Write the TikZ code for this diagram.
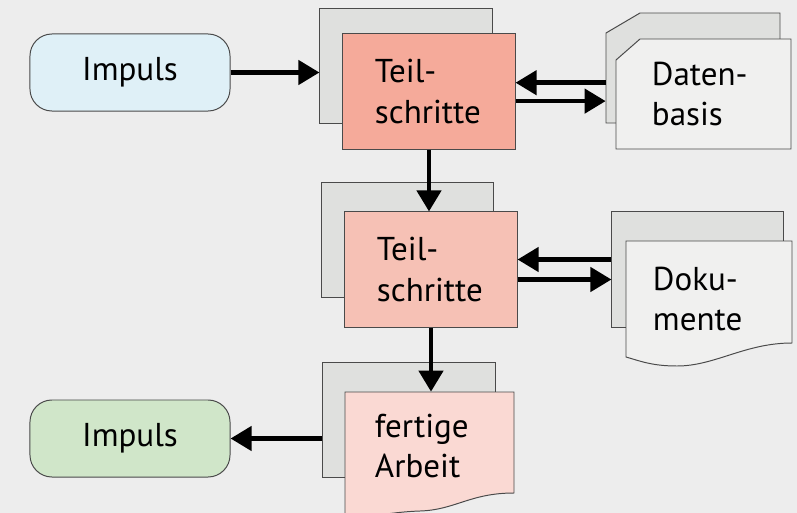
\documentclass[tikz,border=0pt]{standalone}
\usepackage{fontspec}
\setmainfont{PT Sans}
\usepackage{tikz}
\usetikzlibrary{arrows.meta, calc}
\definecolor{paper}{HTML}{EDEDED}
\definecolor{edge}{HTML}{4A4A4A}
\definecolor{sheet}{HTML}{DFE0DE}
\definecolor{docfill}{HTML}{F0F0EF}
\definecolor{impin}{HTML}{DFF0F7}
\definecolor{impout}{HTML}{D0E6C9}
\definecolor{stepA}{HTML}{F5AA9A}
\definecolor{stepB}{HTML}{F6C1B5}
\definecolor{stepC}{HTML}{FAD9D3}

\begin{document}
\begin{tikzpicture}[x=0.025cm, y=-0.025cm,
    every node/.style={font=\fontsize{23.5}{28.5}\selectfont},
    box/.style={draw=edge, line width=0.7pt},
    impuls/.style={box, rounded corners=0.55cm, minimum width=5cm, minimum height=1.925cm},
    backsheet/.style={box, fill=sheet, minimum width=4.3cm, minimum height=2.875cm},
    stepbox/.style={box, align=left, text width=2.7cm, inner xsep=0.8cm,
        minimum width=4.3cm, minimum height=2.875cm},
    doctext/.style={align=left, inner ysep=0pt},
    link/.style={-{Triangle[length=15pt, width=17pt]}, line width=3.4pt}]
    % --- Paper background ---
    \useasboundingbox (0,0) rectangle (797,513);
    \clip (0,0) rectangle (797,513);
    \fill[paper] (0,0) rectangle (797,513);

    % --- Impulse in and out ---
    \node[impuls, fill=impin] (imp1) at (130,72.5) {Impuls};
    \node[impuls, fill=impout] (imp2) at (130,438.5) {Impuls};

    % --- Steps ---
    \node[backsheet] (ts1b) at (406,66) {};
    \node[stepbox, fill=stepA] (ts1) at (429,91.5) {Teil-\\schritte};
    \node[backsheet] (ts2b) at (407.5,240) {};
    \node[stepbox, fill=stepB] (ts2) at (431,269.5) {Teil-\\schritte};
    \node[backsheet] (fab) at (409,420) {};
    \draw[box, fill=stepC] (345,392) -- (514,392) -- (514,493)
        .. controls (470,493) and (455,510) .. (420,511)
        .. controls (390,512) and (365,518) .. (345,520) -- cycle;
    \node[doctext, text width=2.725cm, inner xsep=0.75cm, minimum height=2.7cm]
        (fa) at (429.5,446) {fertige\\Arbeit};

    % --- Datenbasis ---
    \draw[box, fill=sheet] (606,33) -- (640,13) -- (780,13) -- (780,123)
        -- (606,123) -- cycle;
    \node[minimum width=4.35cm, minimum height=2.75cm] (dbb) at (693,68) {};
    \draw[box, fill=docfill] (616,60) -- (640,39) -- (791,39) -- (791,149)
        -- (616,149) -- cycle;
    \node[doctext, text width=2.575cm, inner xsep=0.9cm, minimum height=2.75cm]
        (db) at (703.5,94) {Daten-\\basis};

    % --- Dokumente ---
    \node[box, fill=sheet, minimum width=4.275cm, minimum height=2.875cm]
        (dokb) at (697.5,269.5) {};
    \draw[box, fill=docfill] (626,241) -- (792,241) -- (792,343)
        .. controls (745,343) and (715,366) .. (677,366)
        .. controls (652,366) and (640,361) .. (626,357) -- cycle;
    \node[doctext, text width=2.8cm, inner xsep=0.675cm, minimum height=2.9cm]
        (dok) at (709,299) {Doku-\\mente};

    % --- Connectors ---
    \draw[link] (imp1.east) -- (imp1.east -| ts1b.west);
    \draw[link] ([yshift=2.2mm]ts1.east -| dbb.west) -- ([yshift=2.2mm]ts1.east);
    \draw[link] ([yshift=-2.4mm]ts1.east) -- ([yshift=-2.4mm]ts1.east -| dbb.west);
    \draw[link] (ts1.south) -- (ts1.south |- ts2.north);
    \draw[link] ([yshift=2.5mm]ts2.east -| dokb.west) -- ([yshift=2.5mm]ts2.east);
    \draw[link] ([yshift=-2.5mm]ts2.east) -- ([yshift=-2.5mm]ts2.east -| dokb.west);
    \draw[link] (ts2.south) -- (ts2.south |- fa.north);
    \draw[link] (imp2.east -| fab.west) -- (imp2.east);
\end{tikzpicture}
\end{document}
